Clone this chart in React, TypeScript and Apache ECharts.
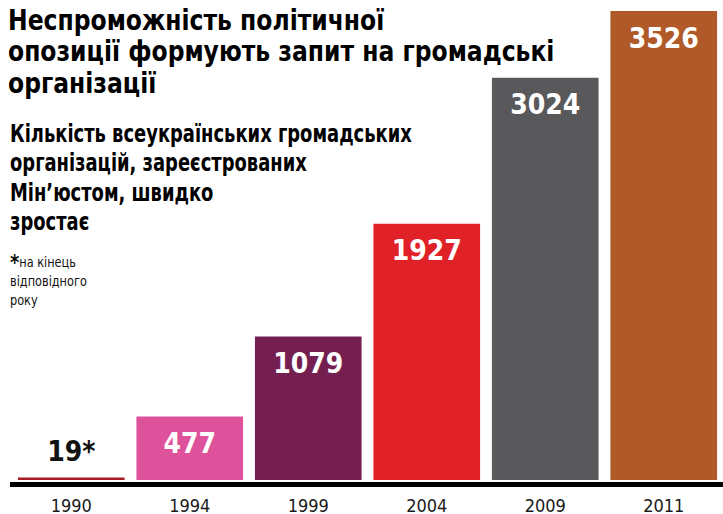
import React, { useEffect, useRef } from "react";
import * as echarts from "echarts";

const years = ["1990", "1994", "1999", "2004", "2009", "2011"];
const counts = [19, 477, 1079, 1927, 3024, 3526];
const valueLabels = ["19*", "477", "1079", "1927", "3024", "3526"];
const barColors = ["#a51c24", "#de529b", "#741f50", "#e02128", "#59595b", "#b05a29"];

const titleText = "Неспроможність політичної\nопозиції формують запит на громадські\nорганізації";
const subtitleText = "Кількість всеукраїнських громадських\nорганізацій, зареєстрованих\nМін’юстом, швидко\nзростає";

const FONT = "'DejaVu Sans Condensed', 'Liberation Sans Narrow', 'Noto Sans', sans-serif";

export default function App() {
  const ref = useRef<HTMLDivElement>(null);
  useEffect(() => {
    if (!ref.current) return;
    const chart = echarts.init(ref.current, null, { renderer: "svg" });
    chart.setOption({
      animation: false,
      backgroundColor: "#ffffff",
      grid: { left: 12, right: 0, top: 11, bottom: 32, containLabel: false },
      xAxis: {
        type: "category",
        data: years,
        axisLine: { show: false },
        axisTick: { show: false },
        axisLabel: { fontFamily: FONT, fontSize: 18, color: "#1a1a1a", margin: 16 },
      },
      yAxis: {
        type: "value",
        min: 0,
        max: 3526,
        show: false,
        splitLine: { show: false },
      },
      series: [
        {
          type: "bar",
          barCategoryGap: "10%",
          data: counts.map((v, i) => ({
            value: v,
            itemStyle: { color: barColors[i] },
            label: i === 0
              ? { position: "top", distance: 12, color: "#111111" }
              : { position: "insideTop", distance: 13, color: "#ffffff" },
          })),
          label: {
            show: true,
            fontFamily: FONT,
            fontWeight: "bold",
            fontSize: 28,
            formatter: (p: any) => valueLabels[p.dataIndex],
          },
        },
      ],
      graphic: [
        {
          type: "line",
          shape: { x1: 10, y1: 484.5, x2: 723, y2: 484.5 },
          style: { stroke: "#000000", lineWidth: 5 },
        },
        {
          type: "text",
          x: 8,
          y: 4,
          scaleX: 0.9,
          style: {
            text: titleText,
            fontFamily: FONT,
            fontWeight: "bold",
            fontSize: 29,
            lineHeight: 31.5,
            fill: "#000000",
          },
        },
        {
          type: "text",
          x: 10,
          y: 119,
          scaleX: 0.83,
          style: {
            text: subtitleText,
            fontFamily: FONT,
            fontWeight: "bold",
            fontSize: 24,
            lineHeight: 29.5,
            fill: "#000000",
          },
        },
        {
          type: "text",
          x: 10,
          y: 253,
          scaleX: 0.9,
          style: {
            text: "{a|*}{b|на кінець}\n{b|відповідного}\n{b|року}",
            fontFamily: FONT,
            rich: {
              a: { fontFamily: FONT, fontWeight: "bold", fontSize: 22, lineHeight: 19, fill: "#111111" },
              b: { fontFamily: FONT, fontSize: 14, lineHeight: 19, fill: "#111111" },
            },
          },
        },
      ],
    });
    return () => chart.dispose();
  }, []);
  return <div ref={ref} style={{ width: 723, height: 514, position: "absolute", left: 0, top: 0 }} />;
}
